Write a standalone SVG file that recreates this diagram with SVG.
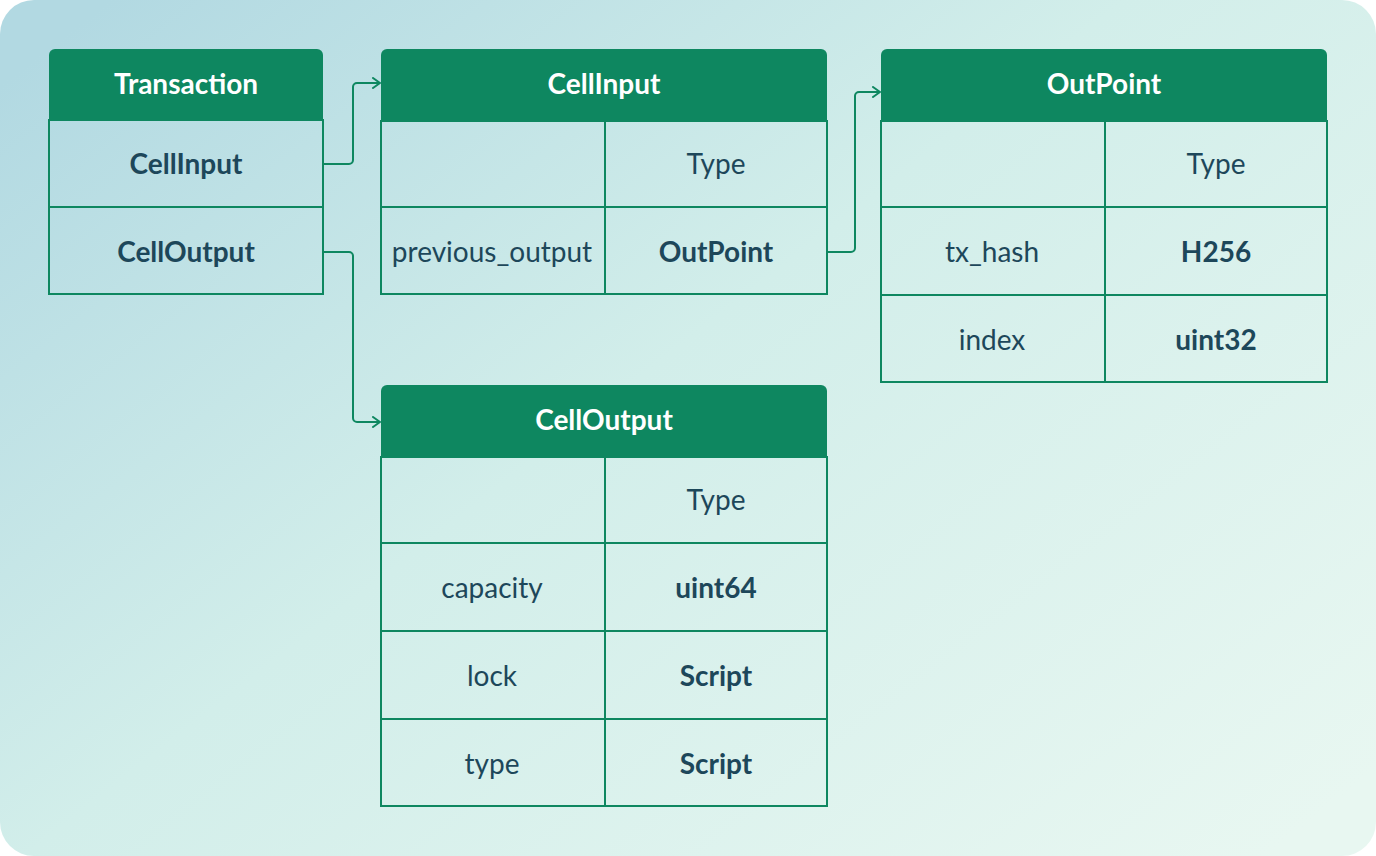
<svg xmlns="http://www.w3.org/2000/svg" width="1376" height="856" viewBox="0 0 1376 856">
<defs>
<linearGradient id="bg" x1="0" y1="0.1" x2="1" y2="0.9">
<stop offset="0" stop-color="#b2d9e2"/>
<stop offset="0.45" stop-color="#d2eeea"/>
<stop offset="1" stop-color="#e8f7f1"/>
</linearGradient>
<marker id="arr" markerWidth="12" markerHeight="12" refX="10" refY="6" orient="auto" markerUnits="userSpaceOnUse">
<path d="M3,1 L10,6 L3,11" fill="none" stroke="#0e8760" stroke-width="2" stroke-linecap="round" stroke-linejoin="round"/>
</marker>
<style>
.hd{fill:#0e8760}
.bx{fill:none;stroke:#0e8760;stroke-width:2}
.ln{stroke:#0e8760;stroke-width:2}
.ht{font-family:Lato,"Liberation Sans",sans-serif;font-weight:700;font-size:28px;fill:#ffffff;text-anchor:middle}
.tb{font-family:Lato,"Liberation Sans",sans-serif;font-weight:700;font-size:28px;fill:#1d475a;text-anchor:middle}
.tr{font-family:Lato,"Liberation Sans",sans-serif;font-weight:400;font-size:28px;fill:#1d475a;text-anchor:middle}
.cn{fill:none;stroke:#0e8760;stroke-width:2;stroke-linejoin:round}
</style>
</defs>
<rect x="0" y="0" width="1376" height="856" rx="34" fill="url(#bg)"/>

<g id="transaction">
<path class="hd" d="M49,120 V55 a6,6 0 0 1 6,-6 H317 a6,6 0 0 1 6,6 V120 Z"/>
<rect class="bx" x="49" y="120" width="274" height="174"/>
<line class="ln" x1="49" y1="207" x2="323" y2="207"/>
<text class="ht" x="186" y="94">Transaction</text>
<text class="tb" x="186" y="174">CellInput</text>
<text class="tb" x="186" y="262">CellOutput</text>
</g>

<g id="cellinput">
<path class="hd" d="M381,121 V55 a6,6 0 0 1 6,-6 H821 a6,6 0 0 1 6,6 V121 Z"/>
<rect class="bx" x="381" y="121" width="446" height="173"/>
<line class="ln" x1="381" y1="207" x2="827" y2="207"/>
<line class="ln" x1="605" y1="121" x2="605" y2="294"/>
<text class="ht" x="604" y="94">CellInput</text>
<text class="tr" x="716" y="174">Type</text>
<text class="tr" x="492" y="262">previous_output</text>
<text class="tb" x="716" y="262">OutPoint</text>
</g>

<g id="outpoint">
<path class="hd" d="M881,121 V55 a6,6 0 0 1 6,-6 H1321 a6,6 0 0 1 6,6 V121 Z"/>
<rect class="bx" x="881" y="121" width="446" height="261"/>
<line class="ln" x1="881" y1="207" x2="1327" y2="207"/>
<line class="ln" x1="881" y1="295" x2="1327" y2="295"/>
<line class="ln" x1="1105" y1="121" x2="1105" y2="382"/>
<text class="ht" x="1104" y="94">OutPoint</text>
<text class="tr" x="1216" y="174">Type</text>
<text class="tr" x="992" y="262">tx_hash</text>
<text class="tb" x="1216" y="262">H256</text>
<text class="tr" x="992" y="350">index</text>
<text class="tb" x="1216" y="350">uint32</text>
</g>

<g id="celloutput">
<path class="hd" d="M381,457 V391 a6,6 0 0 1 6,-6 H821 a6,6 0 0 1 6,6 V457 Z"/>
<rect class="bx" x="381" y="457" width="446" height="349"/>
<line class="ln" x1="381" y1="543" x2="827" y2="543"/>
<line class="ln" x1="381" y1="631" x2="827" y2="631"/>
<line class="ln" x1="381" y1="719" x2="827" y2="719"/>
<line class="ln" x1="605" y1="457" x2="605" y2="806"/>
<text class="ht" x="604" y="430">CellOutput</text>
<text class="tr" x="716" y="510">Type</text>
<text class="tr" x="492" y="598">capacity</text>
<text class="tb" x="716" y="598">uint64</text>
<text class="tr" x="492" y="686">lock</text>
<text class="tb" x="716" y="686">Script</text>
<text class="tr" x="492" y="774">type</text>
<text class="tb" x="716" y="774">Script</text>
</g>

<g id="connectors">
<path class="cn" d="M324,164 H349 a4,4 0 0 0 4,-4 V87 a4,4 0 0 1 4,-4 H380" marker-end="url(#arr)"/>
<path class="cn" d="M324,252 H349 a4,4 0 0 1 4,4 V418 a4,4 0 0 0 4,4 H380" marker-end="url(#arr)"/>
<path class="cn" d="M828,252 H851 a4,4 0 0 0 4,-4 V96 a4,4 0 0 1 4,-4 H880" marker-end="url(#arr)"/>
</g>
</svg>
